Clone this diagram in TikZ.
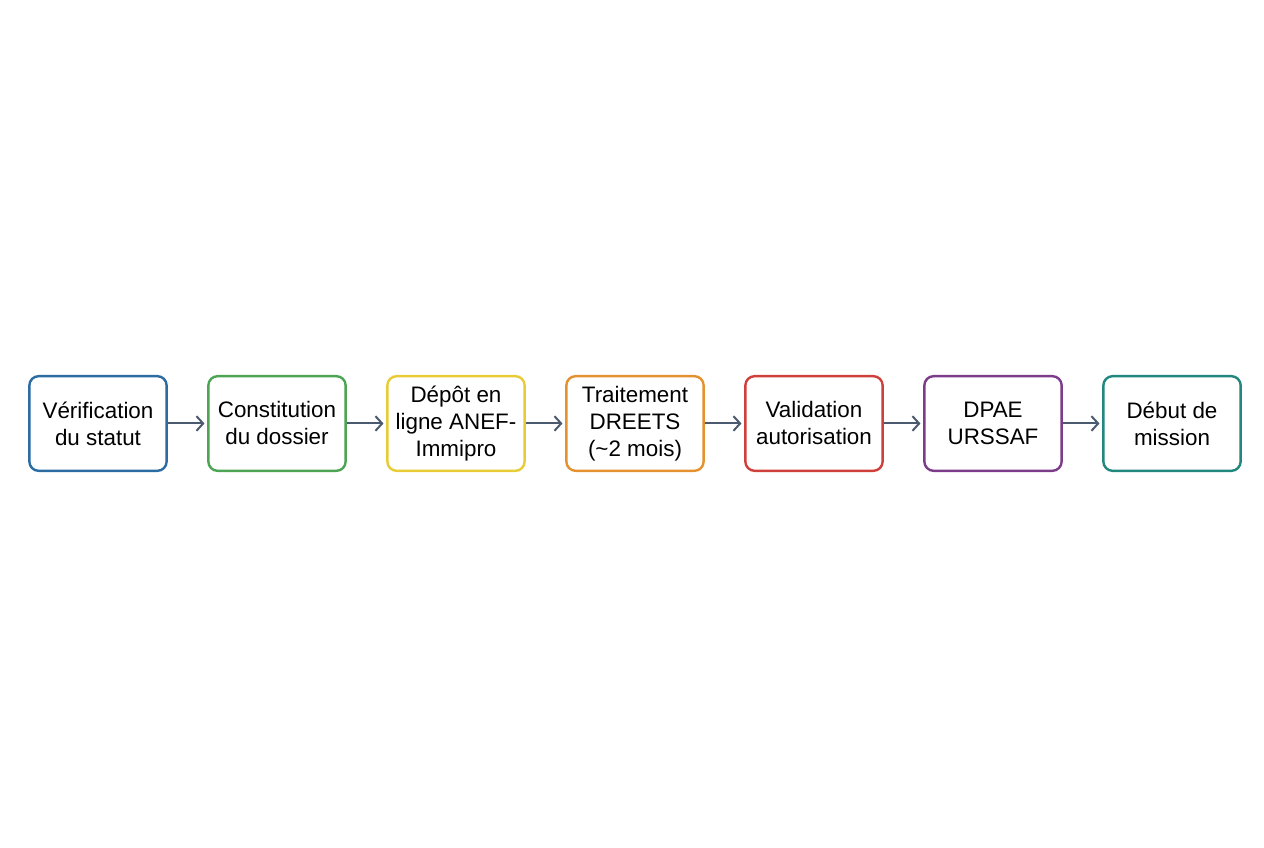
\documentclass[tikz,border=0pt]{standalone}
\usepackage{fontspec}
\setmainfont{Liberation Sans}
\usepackage{xcolor}
\usepackage{tikz}
\usetikzlibrary{arrows.meta,positioning}

\definecolor{stepblue}{HTML}{2B6CA3}
\definecolor{stepgreen}{HTML}{4DA453}
\definecolor{stepyellow}{HTML}{E9CC35}
\definecolor{steporange}{HTML}{E3922F}
\definecolor{stepred}{HTML}{D0403A}
\definecolor{steppurple}{HTML}{7D3C8A}
\definecolor{stepteal}{HTML}{22877E}
\definecolor{flowgray}{HTML}{4B5A6E}

\begin{document}
\begin{tikzpicture}[x=0.75pt, y=0.75pt, node distance=134.25pt,
  stage/.style={draw, rounded corners=7pt, line width=1.8pt, fill=white,
    minimum width=103pt, minimum height=71pt, align=center,
    font=\fontsize{16.8pt}{20.25pt}\selectfont, inner sep=1pt},
  flow/.style={-{Straight Barb[length=5pt, width=11pt]}, draw=flowgray, line width=1.5pt, shorten >=2pt}]
\useasboundingbox (0,0) rectangle (1264,848);
\node[stage, draw=stepblue] (verif) at (98,424.5) {Vérification\\du statut};
\node[stage, draw=stepgreen] (dossier) [right of=verif] {Constitution\\du dossier};
\node[stage, draw=stepyellow] (depot) [right of=dossier] {Dépôt en\\ligne ANEF-\\Immipro};
\node[stage, draw=steporange] (dreets) [right of=depot] {Traitement\\DREETS\\(\textasciitilde 2 mois)};
\node[stage, draw=stepred] (valid) [right of=dreets] {Validation\\autorisation};
\node[stage, draw=steppurple] (dpae) [right of=valid] {DPAE\\URSSAF};
\node[stage, draw=stepteal] (debut) [right of=dpae] {Début de\\mission};

\path[flow]
(verif) edge (dossier)
(dossier) edge (depot)
(depot) edge (dreets)
(dreets) edge (valid)
(valid) edge (dpae)
(dpae) edge (debut);
\end{tikzpicture}
\end{document}
